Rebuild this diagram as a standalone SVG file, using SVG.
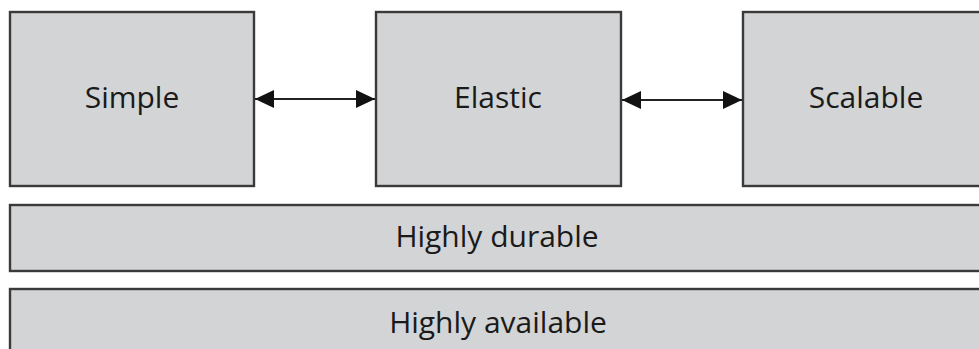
<svg xmlns="http://www.w3.org/2000/svg" width="979" height="349" viewBox="0 0 979 349">
  <style>
    .box { fill: #d3d4d6; stroke: #3a3a3a; stroke-width: 2.4; }
    .label { font-family: "Open Sans", "Liberation Sans", sans-serif; font-size: 30px; fill: #1a1a1a; text-anchor: middle; }
    .link { stroke: #222; stroke-width: 2; fill: none; marker-start: url(#head); marker-end: url(#head); }
  </style>
  <defs>
    <marker id="head" viewBox="0 0 19 18" refX="19" refY="9" markerWidth="19" markerHeight="18" markerUnits="userSpaceOnUse" orient="auto-start-reverse">
      <path d="M0,0 L19,9 L0,18 Z" fill="#111"/>
    </marker>
  </defs>
  <rect width="979" height="349" fill="#ffffff"/>

  <g id="simple">
    <rect class="box" x="10" y="12" width="244" height="174"/>
    <text class="label" x="132" y="108">Simple</text>
  </g>
  <g id="elastic">
    <rect class="box" x="376" y="12" width="245" height="174"/>
    <text class="label" x="498" y="108">Elastic</text>
  </g>
  <g id="scalable">
    <rect class="box" x="743" y="12" width="246" height="174"/>
    <text class="label" x="866" y="108">Scalable</text>
  </g>
  <g id="durable">
    <rect class="box" x="10" y="205" width="980" height="66"/>
    <text class="label" x="497" y="247">Highly durable</text>
  </g>
  <g id="available">
    <rect class="box" x="10" y="289" width="980" height="80"/>
    <text class="label" x="498" y="333">Highly available</text>
  </g>

  <g id="connectors">
    <line class="link" x1="255" y1="99" x2="375" y2="99"/>
    <line class="link" x1="622" y1="100" x2="742" y2="100"/>
  </g>
</svg>
